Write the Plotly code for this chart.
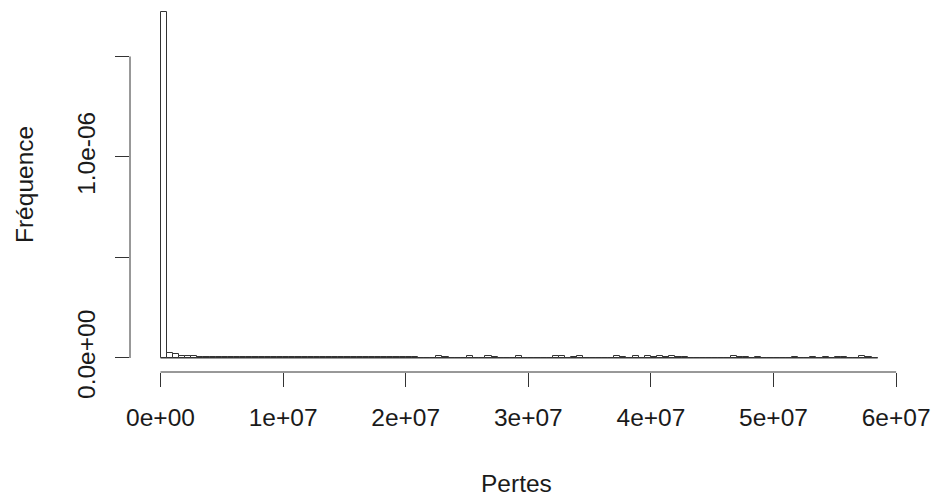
import plotly.graph_objects as go

# Histogram (density) of "Pertes": bins of width 5e5 from 0 to 5.8e7
BIN_START = 0.0
BIN_WIDTH = 5e5
# densities per bin
density = [1.72e-6,
           25e-9, 20e-9, 12e-9, 10e-9,
           8e-9, 6e-9, 5e-9, 7e-9, 4e-9, 6e-9, 7e-9, 4e-9, 6e-9, 4e-9, 3e-9, 6e-9, 4e-9, 6e-9, 4e-9,
           4e-9, 3e-9, 6e-9, 4e-9, 3e-9, 4e-9, 3e-9, 6e-9, 4e-9, 7e-9, 4e-9, 3e-9, 4e-9, 3e-9, 4e-9,
           6e-9, 3e-9, 4e-9, 3e-9, 4e-9, 6e-9,
           5e-9, 0, 0, 0, 9e-9, 6e-9, 0, 0, 0, 8e-9, 0, 0, 8e-9, 6e-9, 0, 0, 0, 8e-9, 0,
           0, 0, 0, 0, 8e-9, 8e-9, 0, 6e-9, 8e-9, 0, 0, 0, 0, 0, 8e-9, 6e-9, 0, 8e-9, 0, 8e-9,
           6e-9, 8e-9, 6e-9, 8e-9, 6e-9, 6e-9, 0, 0, 0, 0, 0, 0, 0, 8e-9, 6e-9, 6e-9, 0, 6e-9,
           0, 0, 0, 0, 0, 6e-9, 0, 0, 6e-9, 0, 6e-9, 0, 6e-9, 6e-9, 0, 0, 8e-9, 6e-9, 0]

x_ticks = [0, 1e7, 2e7, 3e7, 4e7, 5e7, 6e7]
x_ticktext = ["0e+00", "1e+07", "2e+07", "3e+07", "4e+07", "5e+07", "6e+07"]
y_ticks = [0, 5e-7, 1e-6, 1.5e-6]
y_ticktext = ["0.0e+00", "", "1.0e-06", ""]
x_title = "Pertes"
y_title = "Fréquence"

n = len(density)
edges = [BIN_START + i * BIN_WIDTH for i in range(n + 1)]
centers = [(edges[i] + edges[i + 1]) / 2 for i in range(n)]

FONT = "Liberation Sans, Arial, Helvetica, sans-serif"
FS = 24.5
INK = "#1a1a1a"
LINE = "#333333"

fig = go.Figure()
fig.add_trace(go.Bar(
    x=centers, y=density, width=[BIN_WIDTH] * n,
    marker=dict(color="white", line=dict(color=LINE, width=1)),
    hoverinfo="x+y", showlegend=False,
))

W, H = 939, 500
L, R, T, B = 130, 939 - 902, 0, 500 - 372
plot_w = W - L - R
plot_h = H - T - B

fig.update_layout(
    width=W, height=H,
    margin=dict(l=L, r=R, t=T, b=B, pad=0, autoexpand=False),
    plot_bgcolor="white", paper_bgcolor="white",
    font=dict(family=FONT, size=FS, color=INK),
    bargap=0,
    xaxis=dict(range=[-2.488e6, 6.048e7], tickvals=x_ticks, ticktext=x_ticktext,
               ticks="outside", ticklen=14, tickwidth=1, tickcolor=LINE,
               ticklabelstandoff=10,
               showline=False, showgrid=False, zeroline=False,
               tickfont=dict(size=FS, color=INK, family=FONT)),
    yaxis=dict(range=[-6.97e-8, 1.781e-6], tickvals=y_ticks, ticktext=y_ticktext,
               ticks="outside", ticklen=14, tickwidth=1, tickcolor=LINE,
               tickangle=-90, ticklabelstandoff=10,
               showline=False, showgrid=False, zeroline=False,
               tickfont=dict(size=FS, color=INK, family=FONT)),
    shapes=[
        # x axis line spanning first to last tick
        dict(type="line", xref="x", yref="paper", x0=x_ticks[0], x1=x_ticks[-1], y0=0, y1=0,
             line=dict(color=LINE, width=1)),
        # y axis line spanning first to last tick
        dict(type="line", xref="paper", yref="y", x0=0, x1=0, y0=y_ticks[0], y1=y_ticks[-1],
             line=dict(color=LINE, width=1)),
        # baseline of histogram (empty bins)
        dict(type="line", xref="x", yref="y", x0=edges[0], x1=edges[-1], y0=0, y1=0,
             line=dict(color=LINE, width=1)),
    ],
    annotations=[
        dict(text=x_title, xref="paper", yref="paper", x=0.5, y=(plot_h - (483 - T)) / plot_h,
             xanchor="center", yanchor="middle", showarrow=False,
             font=dict(size=FS, color=INK, family=FONT)),
        dict(text=y_title, xref="paper", yref="paper", x=(24 - L) / plot_w, y=(plot_h - (185 - T)) / plot_h,
             xanchor="center", yanchor="middle", textangle=-90, showarrow=False,
             font=dict(size=FS, color=INK, family=FONT)),
    ],
)

fig.write_html("out.html", config={"displayModeBar": False},
               post_script="document.body.style.margin='0';document.body.style.overflow='hidden';")
